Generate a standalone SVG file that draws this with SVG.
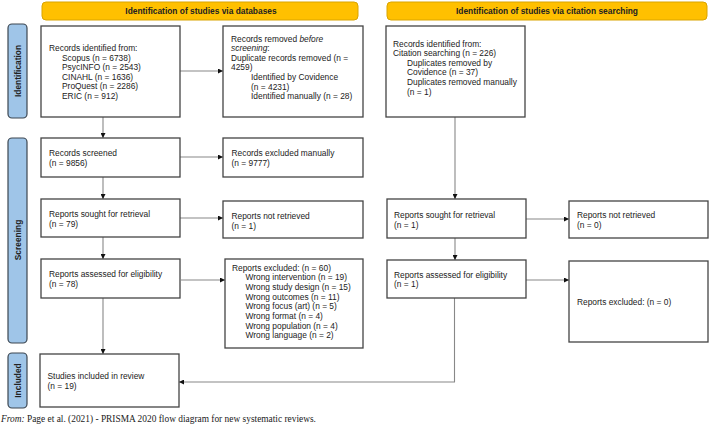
<svg xmlns="http://www.w3.org/2000/svg" width="709" height="429" viewBox="0 0 709 429">
<defs>
<style>
.hdr{fill:#FFC000;stroke:#D9A400;stroke-width:1}
.side{fill:#9FC5E8;stroke:#3C4650;stroke-width:1.2}
.box{fill:#fff;stroke:#444;stroke-width:1.3}
.t{font-family:"Liberation Sans",Arial,sans-serif;font-size:8.4px;fill:#222}
.b{font-family:"Liberation Sans",Arial,sans-serif;font-size:8.4px;font-weight:bold;fill:#222}
.c{fill:none;stroke:#888;stroke-width:1.1}
.foot{font-family:"Liberation Serif","Times New Roman",serif;font-size:9.4px;fill:#222}
</style>
<marker id="ah" viewBox="0 0 10 10" refX="10" refY="5" markerWidth="5" markerHeight="5" orient="auto" markerUnits="userSpaceOnUse">
<path d="M0,0 L10,5 L0,10 Z" fill="#111"/>
</marker>
</defs>
<rect width="709" height="429" fill="#fff"/>

<g id="header-databases">
<rect class="hdr" x="42" y="2" width="316" height="18" rx="4"/>
<text class="b" x="201" y="14" text-anchor="middle">Identification of studies via databases</text>
</g>
<g id="header-citation">
<rect class="hdr" x="387" y="2" width="320" height="18" rx="4"/>
<text class="b" x="547" y="14" text-anchor="middle">Identification of studies via citation searching</text>
</g>

<g id="side-identification">
<rect class="side" x="8" y="24" width="19" height="94" rx="4"/>
<text class="b" transform="translate(20.5,71) rotate(-90)" text-anchor="middle">Identification</text>
</g>
<g id="side-screening">
<rect class="side" x="8" y="138" width="19" height="205" rx="4"/>
<text class="b" transform="translate(20.5,240) rotate(-90)" text-anchor="middle">Screening</text>
</g>
<g id="side-included">
<rect class="side" x="8" y="353" width="19" height="55" rx="4"/>
<text class="b" transform="translate(20.5,380.5) rotate(-90)" text-anchor="middle">Included</text>
</g>

<g id="connectors">
<line class="c" x1="180" y1="71" x2="223" y2="71" marker-end="url(#ah)"/>
<line class="c" x1="103" y1="117" x2="103" y2="138" marker-end="url(#ah)"/>
<line class="c" x1="180" y1="157" x2="223" y2="157" marker-end="url(#ah)"/>
<line class="c" x1="103" y1="177" x2="103" y2="199" marker-end="url(#ah)"/>
<line class="c" x1="180" y1="218" x2="223" y2="218" marker-end="url(#ah)"/>
<line class="c" x1="103" y1="237" x2="103" y2="259" marker-end="url(#ah)"/>
<line class="c" x1="181" y1="280" x2="225" y2="280" marker-end="url(#ah)"/>
<line class="c" x1="103" y1="298" x2="103" y2="354" marker-end="url(#ah)"/>
<line class="c" x1="455" y1="117" x2="455" y2="199" marker-end="url(#ah)"/>
<line class="c" x1="526" y1="219" x2="569" y2="219" marker-end="url(#ah)"/>
<line class="c" x1="455" y1="238" x2="455" y2="260" marker-end="url(#ah)"/>
<line class="c" x1="526" y1="280" x2="569" y2="280" marker-end="url(#ah)"/>
<polyline class="c" points="454.5,298 454.5,382 179,382" marker-end="url(#ah)"/>
</g>

<g id="records-identified">
<rect class="box" x="41" y="26" width="139" height="91"/>
<text class="t" x="49" y="51">Records identified from:</text>
<text class="t" x="62" y="60.6">Scopus (n = 6738)</text>
<text class="t" x="62" y="70.2">PsycINFO (n = 2543)</text>
<text class="t" x="62" y="79.8">CINAHL (n = 1636)</text>
<text class="t" x="62" y="89.4">ProQuest (n = 2286)</text>
<text class="t" x="62" y="99">ERIC (n = 912)</text>
</g>
<g id="records-removed">
<rect class="box" x="223" y="26" width="140" height="91"/>
<text class="t" x="231" y="41.5">Records removed <tspan font-style="italic">before</tspan></text>
<text class="t" x="231" y="51.1"><tspan font-style="italic">screening</tspan>:</text>
<text class="t" x="231" y="60.7">Duplicate records removed  (n =</text>
<text class="t" x="231" y="70.3">4259)</text>
<text class="t" x="251" y="79.9">Identified by Covidence</text>
<text class="t" x="251" y="89.5">(n = 4231)</text>
<text class="t" x="251" y="99.1">Identified manually (n = 28)</text>
</g>
<g id="citation-identified">
<rect class="box" x="386" y="26" width="139" height="91"/>
<text class="t" x="393" y="46.5">Records identified from:</text>
<text class="t" x="393" y="56">Citation searching (n = 226)</text>
<text class="t" x="407" y="65.5">Duplicates removed by</text>
<text class="t" x="407" y="75">Covidence (n = 37)</text>
<text class="t" x="407" y="84.8">Duplicates removed manually</text>
<text class="t" x="407" y="94.5">(n = 1)</text>
</g>

<g id="records-screened">
<rect class="box" x="41" y="138" width="139" height="39"/>
<text class="t" x="49" y="156">Records screened</text>
<text class="t" x="49" y="165.6">(n = 9856)</text>
</g>
<g id="records-excluded">
<rect class="box" x="223" y="138" width="140" height="39"/>
<text class="t" x="231.5" y="156">Records excluded manually</text>
<text class="t" x="231.5" y="165.6">(n = 9777)</text>
</g>

<g id="reports-sought">
<rect class="box" x="41" y="199" width="139" height="38"/>
<text class="t" x="49" y="217">Reports sought for retrieval</text>
<text class="t" x="49" y="227">(n = 79)</text>
</g>
<g id="reports-not-retrieved">
<rect class="box" x="223" y="201" width="140" height="37"/>
<text class="t" x="231.5" y="218.5">Reports not retrieved</text>
<text class="t" x="231.5" y="228.5">(n = 1)</text>
</g>
<g id="citation-sought">
<rect class="box" x="387" y="199" width="139" height="39"/>
<text class="t" x="394" y="218">Reports sought for retrieval</text>
<text class="t" x="394" y="228">(n = 1)</text>
</g>
<g id="citation-not-retrieved">
<rect class="box" x="569" y="201" width="139" height="37"/>
<text class="t" x="577" y="218">Reports not retrieved</text>
<text class="t" x="577" y="228">(n = 0)</text>
</g>

<g id="reports-assessed">
<rect class="box" x="41" y="259" width="139" height="39"/>
<text class="t" x="49" y="276.5">Reports assessed for eligibility</text>
<text class="t" x="49" y="286.5">(n = 78)</text>
</g>
<g id="reports-excluded">
<rect class="box" x="225" y="259" width="138" height="89"/>
<text class="t" x="232" y="270.5">Reports excluded: (n = 60)</text>
<text class="t" x="245.5" y="280.2">Wrong intervention (n = 19)</text>
<text class="t" x="245.5" y="289.9">Wrong study design (n = 15)</text>
<text class="t" x="245.5" y="299.6">Wrong outcomes (n = 11)</text>
<text class="t" x="245.5" y="309.3">Wrong focus (art) (n = 5)</text>
<text class="t" x="245.5" y="319">Wrong format (n = 4)</text>
<text class="t" x="245.5" y="328.7">Wrong population (n = 4)</text>
<text class="t" x="245.5" y="338.4">Wrong language (n = 2)</text>
</g>
<g id="citation-assessed">
<rect class="box" x="387" y="260" width="139" height="38"/>
<text class="t" x="394" y="277.5">Reports assessed for eligibility</text>
<text class="t" x="394" y="287">(n = 1)</text>
</g>
<g id="citation-excluded">
<rect class="box" x="569" y="261" width="139" height="81"/>
<text class="t" x="577" y="304.5">Reports excluded: (n = 0)</text>
</g>

<g id="studies-included">
<rect class="box" x="40" y="354" width="139" height="53"/>
<text class="t" x="47.5" y="379">Studies included in review</text>
<text class="t" x="47.5" y="389">(n = 19)</text>
</g>

<text class="foot" x="1" y="422"><tspan font-style="italic">From:</tspan>  Page et al. (2021) - PRISMA 2020 flow diagram for new systematic reviews.</text>
</svg>
